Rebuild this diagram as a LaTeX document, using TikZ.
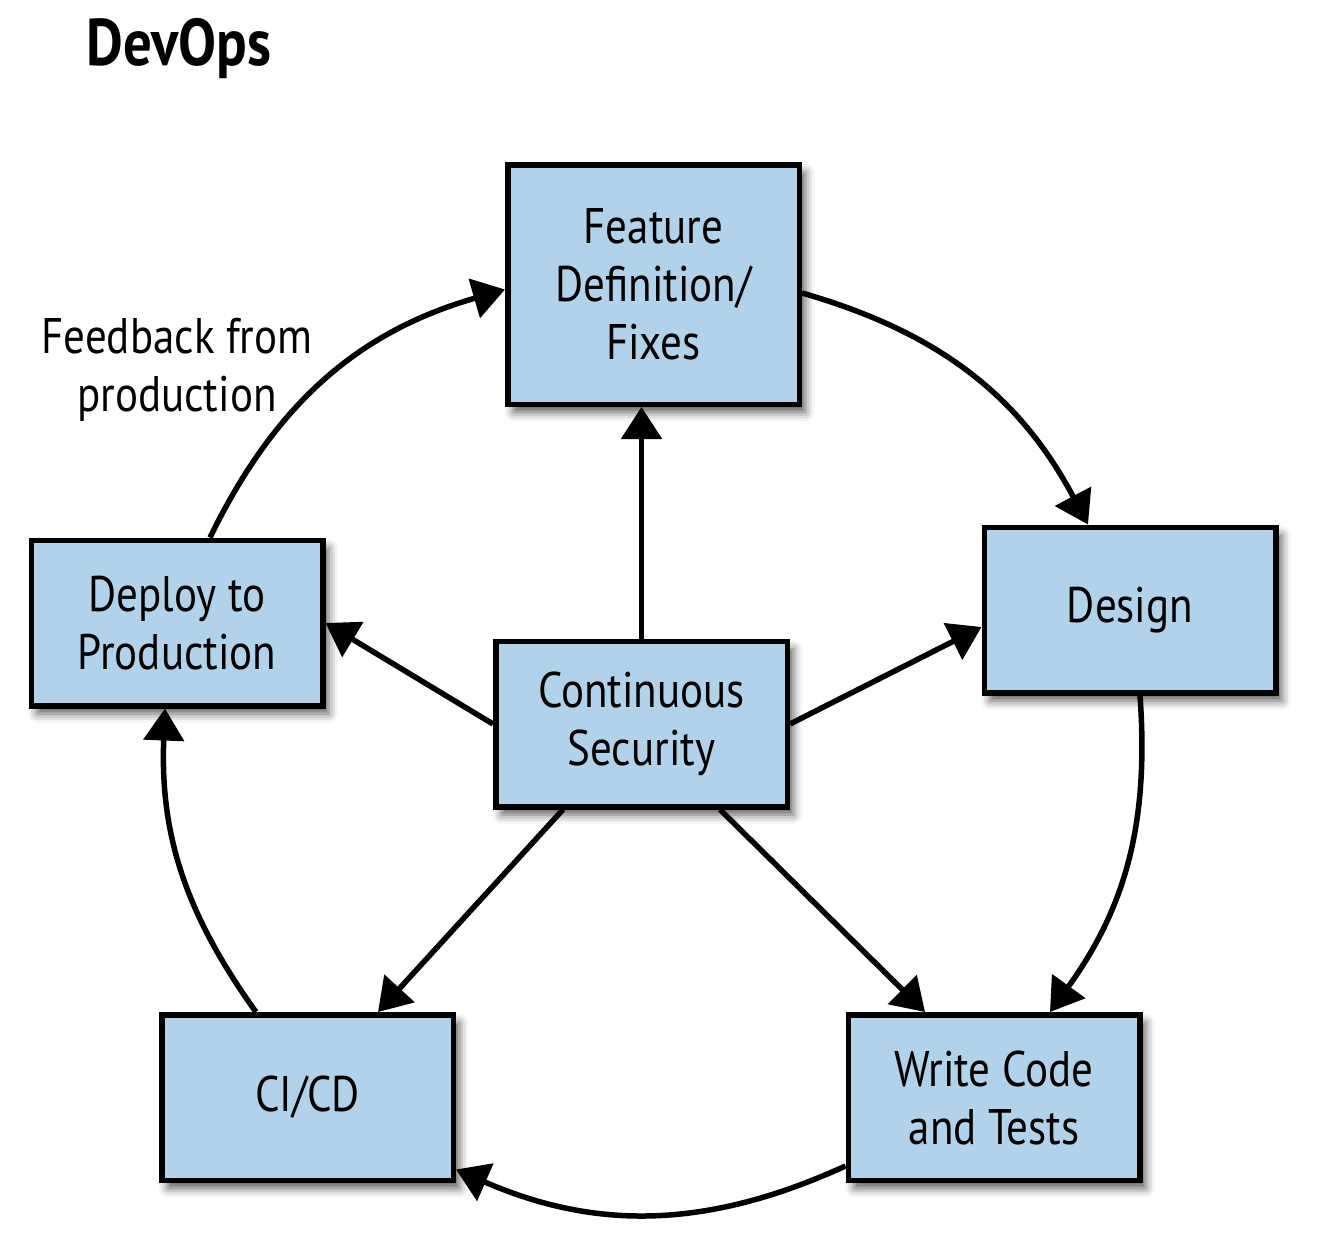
\documentclass[tikz,border=0pt]{standalone}
\usepackage{fontspec}
\setmainfont[FakeStretch=0.86]{PT Sans}
\usetikzlibrary{arrows.meta,shadows.blur}
\definecolor{boxblue}{RGB}{177,210,233}
\tikzset{
  box/.style={draw=black, line width=5.5pt, fill=boxblue, minimum width=291.5pt,
    minimum height=165.5pt, align=center, inner sep=0pt,
    font=\fontsize{50}{58}\selectfont,
    blur shadow={shadow xshift=6pt, shadow yshift=-8pt, shadow blur radius=9pt, shadow opacity=65}},
  conn/.style={line width=5.5pt, -{Triangle[length=32pt,width=40pt]}},
}
\begin{document}
\begin{tikzpicture}[x=1pt,y=-1pt]
\useasboundingbox (0,0) rectangle (1344,1255);
\node[anchor=base west, font=\fontsize{66}{72}\selectfont\bfseries] (title) at (83,66) {DevOps};
\node[align=center, font=\fontsize{50}{58}\selectfont] (fb) at (177,370) {Feedback from\\production};

\node[box, minimum height=239.5pt] (feat) at (653.5,284.5) {Feature\\Definition/\\Fixes};
\node[box] (design) at (1130,610) {Design};
\node[box] (deploy) at (177,623) {Deploy to\\Production};
\node[box] (cs) at (641.5,724) {Continuous\\Security};
\node[box] (cicd) at (307.5,1097.5) {CI/CD};
\node[box] (write) at (994,1097.5) {Write Code\\and Tests};

% straight connectors from the centre
\draw[conn] (cs.north) -- (cs.north |- feat.south);
\draw[conn] (cs.east) -- ([yshift=-17pt]design.west);
\draw[conn] (cs.west) -- (deploy.east);
\draw[conn] ([xshift=-78.5pt]cs.south) -- ([xshift=70.5pt]cicd.north);
\draw[conn] ([xshift=78.5pt]cs.south) -- ([xshift=-69pt]write.north);

% cycle
\draw[conn] ([yshift=-8.5pt]feat.east) to[bend left=23] ([xshift=-42pt]design.north);
\draw[conn] ([xshift=10pt]design.south) to[bend left=20] ([xshift=56pt]write.north);
\draw[conn] ([yshift=-68.5pt]write.west) to[bend left=24] ([yshift=-72pt]cicd.east);
\draw[conn] ([xshift=-51.5pt]cicd.north) to[bend left=19] ([xshift=-12pt]deploy.south);
\draw[conn] ([xshift=33pt]deploy.north) to[bend left=24] ([yshift=-5pt]feat.west);
\end{tikzpicture}
\end{document}
